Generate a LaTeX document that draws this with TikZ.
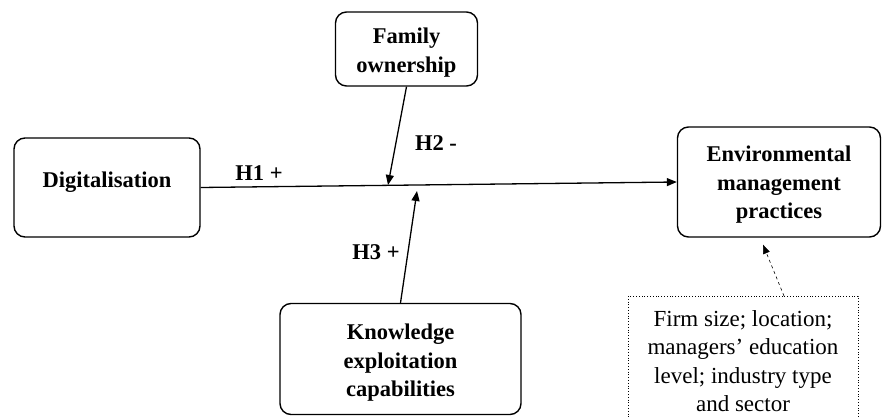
\documentclass[tikz,border=0pt]{standalone}
\usepackage{fontspec}
\setmainfont{Liberation Serif}
\usetikzlibrary{arrows.meta,calc}
\begin{document}
\begin{tikzpicture}[x=1pt,y=-1pt,
  box/.style={draw, line width=1.4pt, rounded corners=11pt, inner sep=0pt},
  btxt/.style={align=center, inner sep=0pt, font=\bfseries\fontsize{22.5}{28.5}\selectfont},
  lbl/.style={font=\bfseries\fontsize{22.5}{28.5}\selectfont, inner sep=0pt},
  arr/.style={line width=1.3pt, -{Triangle[length=10pt,width=8pt]}},
  ctrlbox/.style={draw, dotted, line width=0.8pt, inner sep=0pt}]
\useasboundingbox (0,0) rectangle (883,419);
\node[box, minimum width=186pt, minimum height=99pt] (dig) at (107,187.5) {};
\node[btxt] (digt) at (107,182.5) {Digitalisation};
\node[box, minimum width=142pt, minimum height=74pt] (fam) at (406.5,49) {};
\node[btxt] (famt) at (406.5,52.5) {Family\\ownership};
\node[box, minimum width=203pt, minimum height=110pt] (env) at (779,182) {};
\node[btxt] (envt) at (779,185) {Environmental\\management\\practices};
\node[box, minimum width=241pt, minimum height=111pt] (kno) at (400.5,359) {};
\node[btxt] (knot) at (400.5,363) {Knowledge\\exploitation\\capabilities};
\node[ctrlbox, minimum width=230pt, minimum height=134pt, anchor=north] (ctrl) at (743,296) {};
\node[font=\fontsize{23}{28.5}\selectfont, align=center, inner sep=0pt] (ctrltext) at (743,361)
  {Firm size; location;\\managers’ education\\level; industry type\\and sector};
\draw[arr] (dig.east) -- (env.west);
\coordinate (m1) at (388,185);
\coordinate (m2) at (417,191);
\coordinate (cs) at ($(ctrl.north)+(41,0)$);
\coordinate (ce) at ($(env.south)+(-16,7)$);
\draw[arr] (fam.south) -- (m1);
\draw[arr] (kno.north) -- (m2);
\draw[dashed, line width=0.6pt, -{Triangle[length=9pt,width=7pt]}] (cs) -- (ce);
\node[lbl] (h1) at (259,173) {H1 +};
\node[lbl] (h2) at (436,143) {H2 -};
\node[lbl] (h3) at (376,252) {H3 +};
\end{tikzpicture}
\end{document}
